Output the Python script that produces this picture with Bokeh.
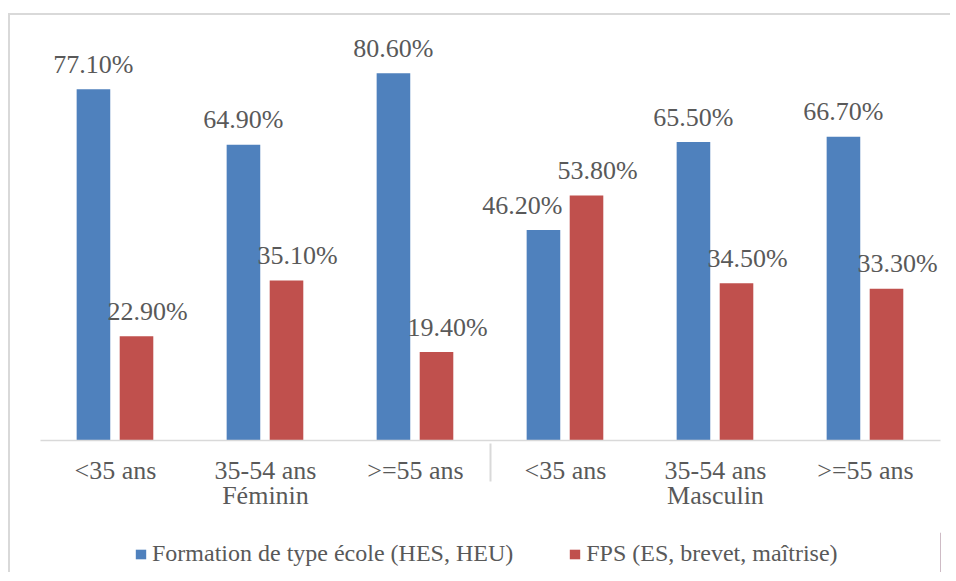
from bokeh.plotting import figure
from bokeh.models import FactorRange, ColumnDataSource, Legend, LegendItem, Range1d, CategoricalAxis
from bokeh.layouts import column
from bokeh.transform import dodge
from bokeh.core.properties import value
from bokeh.embed import file_html
from bokeh.resources import INLINE

groups = ["Féminin", "Féminin", "Féminin", "Masculin", "Masculin", "Masculin"]
group_names = ["Féminin", "Masculin"]
ages = ["<35 ans", "35-54 ans", ">=55 ans", "<35 ans", "35-54 ans", ">=55 ans"]
ecole = [77.1, 64.9, 80.6, 46.2, 65.5, 66.7]
fps = [22.9, 35.1, 19.4, 53.8, 34.5, 33.3]
series_names = ["Formation de type école (HES, HEU)", "FPS (ES, brevet, maîtrise)"]

FONT = "Liberation Serif"
TXT = "#595959"
BLUE = "#4F81BD"
RED = "#C0504D"
GRID = "#d9d9d9"

factors = list(zip(groups, ages))
src = ColumnDataSource(dict(
    x=factors,
    ecole=ecole,
    fps=fps,
    ecole_lbl=["%.2f%%" % v for v in ecole],
    fps_lbl=["%.2f%%" % v for v in fps],
    ecole_dx=[0, 0, 0, -21, 0, 0],
    fps_dx=[11, 11, 11, 11, 11, 11],
))

p = figure(
    width=940, height=517,
    x_range=FactorRange(factors=factors, range_padding=0, group_padding=0, factor_padding=0),
    y_range=Range1d(0, 90),
    output_backend="svg", toolbar_location=None,
    min_border_left=30, min_border_right=10, min_border_top=15, min_border_bottom=92,
)
p.extra_x_ranges = {"grp": FactorRange(factors=group_names, range_padding=0)}
p.outline_line_color = None
p.grid.visible = False
p.yaxis.visible = False

b1 = p.vbar(x=dodge("x", -0.147, range=p.x_range), top="ecole", width=0.224, source=src,
            fill_color=BLUE, line_color=None)
b2 = p.vbar(x=dodge("x", 0.14, range=p.x_range), top="fps", width=0.224, source=src,
            fill_color=RED, line_color=None)

p.text(x=dodge("x", -0.147, range=p.x_range), y="ecole", text="ecole_lbl", source=src,
       x_offset="ecole_dx", y_offset=-25, text_align="center", text_baseline="alphabetic",
       text_font=value(FONT), text_font_size="26px", text_color=TXT)
p.text(x=dodge("x", 0.14, range=p.x_range), y="fps", text="fps_lbl", source=src,
       x_offset="fps_dx", y_offset=-25, text_align="center", text_baseline="alphabetic",
       text_font=value(FONT), text_font_size="26px", text_color=TXT)

ax = p.xaxis[0]
ax.axis_line_color = GRID
ax.axis_line_width = 1.5
ax.major_tick_line_color = None
ax.major_tick_out = 0
ax.major_tick_in = 0
ax.minor_tick_line_color = None
ax.major_label_text_font = FONT
ax.major_label_text_font_size = "26px"
ax.major_label_text_color = TXT
ax.group_text_font = FONT
ax.group_text_font_size = "1px"
ax.group_text_color = None
ax.major_label_standoff = 15
ax.separator_line_color = GRID
ax.separator_line_width = 2

gax = CategoricalAxis(x_range_name="grp")
gax.axis_line_color = None
gax.major_tick_line_color = None
gax.major_tick_out = 0
gax.major_tick_in = 0
gax.minor_tick_line_color = None
gax.major_label_text_font = FONT
gax.major_label_text_font_size = "26px"
gax.major_label_text_color = TXT
gax.major_label_standoff = -7
p.add_layout(gax, "below")

# legend strip
lp = figure(width=940, height=40, x_range=Range1d(0, 1), y_range=Range1d(0, 1),
            output_backend="svg", toolbar_location=None, min_border=0)
lp.axis.visible = False
lp.grid.visible = False
lp.outline_line_color = None
d1 = lp.vbar(x=[5], top=[1], width=0.1, fill_color=BLUE, line_color=None)
d2 = lp.vbar(x=[5], top=[1], width=0.1, fill_color=RED, line_color=None)
legend = Legend(items=[LegendItem(label=series_names[0], renderers=[d1]),
                       LegendItem(label=series_names[1], renderers=[d2])],
                orientation="horizontal", location=(94, 5),
                label_text_font=FONT, label_text_font_size="24px", label_text_color=TXT,
                glyph_width=13, glyph_height=12, label_standoff=5, spacing=55,
                padding=0, margin=0, border_line_color=None, background_fill_alpha=0)
lp.add_layout(legend)

layout = column(p, lp, spacing=0,
                styles={"margin-top": "13px", "margin-left": "8px",
                        "border-top": "2px solid #d9d9d9", "border-left": "2px solid #d9d9d9"})

open("out.html", "w").write(file_html(layout, INLINE))
